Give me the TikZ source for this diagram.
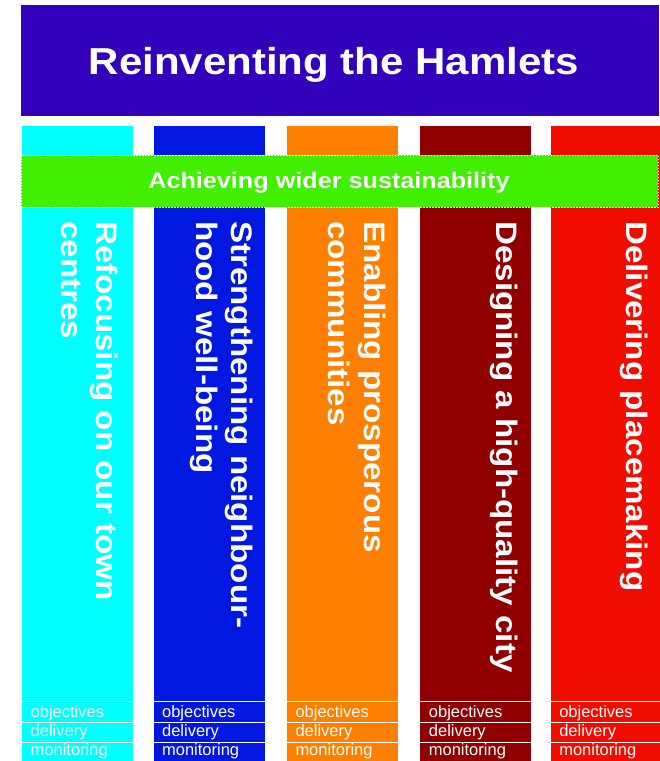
\documentclass[tikz,border=0pt]{standalone}
\usepackage{fontspec}
\setmainfont{Liberation Sans}
\newfontfamily\widebold[FakeStretch=1.12]{Liberation Sans Bold}
\usetikzlibrary{calc, positioning}
\definecolor{titleblue}{RGB}{51,0,187}
\definecolor{pillarcyan}{RGB}{0,255,255}
\definecolor{pillarblue}{RGB}{0,24,224}
\definecolor{pillarorange}{RGB}{255,127,0}
\definecolor{pillarmaroon}{RGB}{144,0,0}
\definecolor{pillarred}{RGB}{240,13,0}
\definecolor{bandgreen}{RGB}{64,240,0}
\tikzstyle{banner} = [rectangle, inner sep=0pt, text=white]
\tikzstyle{pillar} = [rectangle, inner sep=0pt, minimum width=111pt, minimum height=635pt]
\tikzstyle{theme} = [rotate=-90, anchor=base west, align=left, inner sep=0pt, text=white, font=\widebold\fontsize{29.6}{35.5}\selectfont]
\tikzstyle{stage} = [anchor=base west, inner sep=0pt, text=white, font=\fontsize{16.5}{18}\selectfont]
\tikzstyle{divider} = [white, line width=1pt]

\begin{document}
\begin{tikzpicture}[x=1pt, y=-1pt, node distance=21pt]
	\useasboundingbox (0,0) rectangle (660,761);
	% title
	\node (Title) [banner, fill=titleblue, minimum width=638pt, minimum height=111pt] at (340,60.5) {};
	\node (TitleText) [banner, anchor=base, font=\widebold\fontsize{37.5}{40}\selectfont] at ($(Title.south)+(-6,-42)$) {Reinventing the Hamlets};
	% pillars
	\node (Centres) [pillar, fill=pillarcyan, anchor=north west] at (22,126) {};
	\node (Neighbourhood) [pillar, fill=pillarblue, right = 20pt of Centres] {};
	\node (Communities) [pillar, fill=pillarorange, right = 22pt of Neighbourhood] {};
	\node (City) [pillar, fill=pillarmaroon, right = 22pt of Communities] {};
	\node (Placemaking) [pillar, fill=pillarred, right = 19pt of City] {};
	% green band across the pillars
	\node (Sustainability) [banner, fill=bandgreen, draw=white, line width=1pt, dash pattern=on 1.5pt off 1.5pt, minimum width=637pt, minimum height=52pt] at (339.5,181) {};
	\node (SustainabilityText) [banner, anchor=base, font=\widebold\fontsize{22.5}{24}\selectfont] at ($(Sustainability.south)+(-10.5,-19)$) {Achieving wider sustainability};
	% themes (base of a two-line node is its last line)
	\node (CentresTheme) [theme] at ($(Centres.north west)+(39,95)$) {Refocusing on our town\\centres};
	\node (NeighbourhoodTheme) [theme] at ($(Neighbourhood.north west)+(43,95)$) {Strengthening neighbour-\\hood well-being};
	\node (CommunitiesTheme) [theme] at ($(Communities.north west)+(42,95)$) {Enabling prosperous\\communities};
	\node (CityTheme) [theme] at ($(City.north west)+(76,95)$) {Designing a high-quality city};
	\node (PlacemakingTheme) [theme] at ($(Placemaking.north west)+(76,95)$) {Delivering placemaking};
	% objectives, delivery, monitoring
	\node (CentresObjectives) [stage] at ($(Centres.south west)+(8.5,-44)$) {objectives};
	\node (CentresDelivery) [stage] at ($(Centres.south west)+(8.5,-25)$) {delivery};
	\node (CentresMonitoring) [stage] at ($(Centres.south west)+(8.5,-5.5)$) {monitoring};
	\node (NeighbourhoodObjectives) [stage] at ($(Neighbourhood.south west)+(8.5,-44)$) {objectives};
	\node (NeighbourhoodDelivery) [stage] at ($(Neighbourhood.south west)+(8.5,-25)$) {delivery};
	\node (NeighbourhoodMonitoring) [stage] at ($(Neighbourhood.south west)+(8.5,-5.5)$) {monitoring};
	\node (CommunitiesObjectives) [stage] at ($(Communities.south west)+(8.5,-44)$) {objectives};
	\node (CommunitiesDelivery) [stage] at ($(Communities.south west)+(8.5,-25)$) {delivery};
	\node (CommunitiesMonitoring) [stage] at ($(Communities.south west)+(8.5,-5.5)$) {monitoring};
	\node (CityObjectives) [stage] at ($(City.south west)+(8.5,-44)$) {objectives};
	\node (CityDelivery) [stage] at ($(City.south west)+(8.5,-25)$) {delivery};
	\node (CityMonitoring) [stage] at ($(City.south west)+(8.5,-5.5)$) {monitoring};
	\node (PlacemakingObjectives) [stage] at ($(Placemaking.south west)+(8.5,-44)$) {objectives};
	\node (PlacemakingDelivery) [stage] at ($(Placemaking.south west)+(8.5,-25)$) {delivery};
	\node (PlacemakingMonitoring) [stage] at ($(Placemaking.south west)+(8.5,-5.5)$) {monitoring};
	\draw [divider] ($(Centres.south west)+(0,-60)$) -- ($(Centres.south east)+(0,-60)$) ($(Centres.south west)+(0,-39)$) -- ($(Centres.south east)+(0,-39)$) ($(Centres.south west)+(0,-19)$) -- ($(Centres.south east)+(0,-19)$);
	\draw [divider] ($(Neighbourhood.south west)+(0,-60)$) -- ($(Neighbourhood.south east)+(0,-60)$) ($(Neighbourhood.south west)+(0,-39)$) -- ($(Neighbourhood.south east)+(0,-39)$) ($(Neighbourhood.south west)+(0,-19)$) -- ($(Neighbourhood.south east)+(0,-19)$);
	\draw [divider] ($(Communities.south west)+(0,-60)$) -- ($(Communities.south east)+(0,-60)$) ($(Communities.south west)+(0,-39)$) -- ($(Communities.south east)+(0,-39)$) ($(Communities.south west)+(0,-19)$) -- ($(Communities.south east)+(0,-19)$);
	\draw [divider] ($(City.south west)+(0,-60)$) -- ($(City.south east)+(0,-60)$) ($(City.south west)+(0,-39)$) -- ($(City.south east)+(0,-39)$) ($(City.south west)+(0,-19)$) -- ($(City.south east)+(0,-19)$);
	\draw [divider] ($(Placemaking.south west)+(0,-60)$) -- ($(Placemaking.south east)+(0,-60)$) ($(Placemaking.south west)+(0,-39)$) -- ($(Placemaking.south east)+(0,-39)$) ($(Placemaking.south west)+(0,-19)$) -- ($(Placemaking.south east)+(0,-19)$);
\end{tikzpicture}
\end{document}
